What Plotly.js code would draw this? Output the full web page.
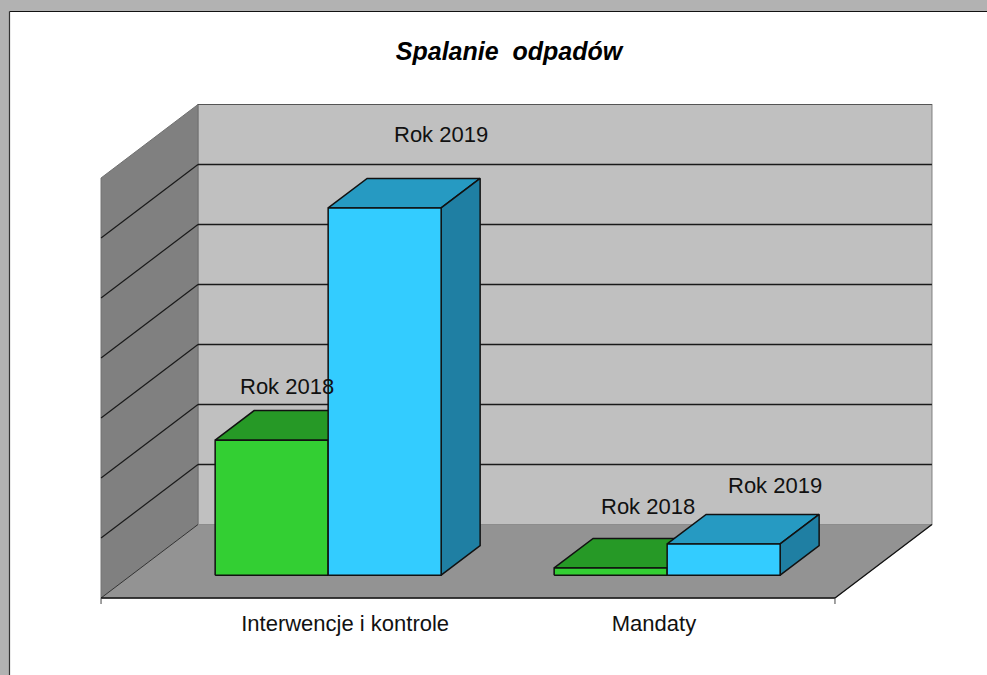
<!DOCTYPE html>
<html>
<head>
<meta charset="utf-8">
<script src="https://cdn.plot.ly/plotly-3.0.1.min.js"></script>
<style>html,body{margin:0;padding:0;background:#b2b2b2}#chart{width:987px;height:675px}</style>
</head>
<body>
<div id="chart"></div>
<script>
// ---- data (60 px of wall height = 10 units) ----
const categories = ["Interwencje i kontrole", "Mandaty"];
const seriesNames = ["Rok 2018", "Rok 2019"];
const rok2018 = [22.5, 1.2];
const rok2019 = [61.2, 5.2];
const gridValues = [10, 20, 30, 40, 50, 60, 70];
const titleText = "Spalanie\u00a0\u00a0odpadów";

// ---- colours ----
const greenFaces = {front: "#33cf33", top: "#269926", side: "#1f7f1f"};
const blueFaces = {front: "#33ccff", top: "#269ac2", side: "#1f7fa3"};
const wallColor = "#c0c0c0", leftWallColor = "#808080", floorColor = "#939393";

// ---- oblique projection, in axis units ----
const xMin = -0.581;
const floorWidth = 2.165;             // width of the floor's front edge
const depthX = 0.286, depthY = 12.25; // shift of the back wall against the front edge
const barFront = 0.311, barBack = 0.713, barWidth = 1 / 3;
const proj = (x, v, z) => [x + z * depthX, v + z * depthY];

function poly(points, fill, line, width) {
  const p = points.concat([points[0]]);
  return {
    type: "scatter", mode: "lines", x: p.map(q => q[0]), y: p.map(q => q[1]),
    fill: "toself", fillcolor: fill, hoverinfo: "skip",
    line: {color: line, width: width === undefined ? 1.5 : width}, showlegend: false
  };
}
function seg(a, b, color, width) {
  return {
    type: "scatter", mode: "lines", x: [a[0], b[0]], y: [a[1], b[1]],
    hoverinfo: "skip", line: {color: color, width: width}, showlegend: false
  };
}

const traces = [];
// walls and floor
traces.push(poly([proj(xMin, 0, 1), proj(floorWidth + xMin, 0, 1), proj(floorWidth + xMin, 70, 1), proj(xMin, 70, 1)], wallColor, "#8c8c8c", 1.2));
traces.push(poly([proj(xMin, 0, 0), proj(xMin, 0, 1), proj(xMin, 70, 1), proj(xMin, 70, 0)], leftWallColor, "#707070", 1));
traces.push(poly([proj(xMin, 0, 0), proj(xMin + floorWidth, 0, 0), proj(xMin + floorWidth, 0, 1), proj(xMin, 0, 1)], floorColor, "#8c8c8c", 1));
// grid lines
gridValues.forEach(v => {
  const c = v === 70 ? "#555555" : "#1a1a1a";
  if (v !== 70) traces.push(seg(proj(xMin, v, 0), proj(xMin, v, 1), c, 1.2));
  traces.push(seg(proj(xMin, v, 1), proj(xMin + floorWidth, v, 1), c, v === 70 ? 1.2 : 1.5));
});
// floor edges and axis ticks
traces.push(seg(proj(xMin, 0, 0), proj(xMin, 0, 1), "#333333", 1));
traces.push(seg(proj(xMin + floorWidth, 0, 0), proj(xMin + floorWidth, 0, 1), "#111111", 1.3));
traces.push(seg(proj(xMin, 0, 0), proj(xMin + floorWidth, 0, 0), "#111111", 1.6));
[xMin, xMin + floorWidth].forEach(x => traces.push(seg([x, 0], [x, -1], "#444444", 1)));

// bars
function addBars(values, offset, faces) {
  values.forEach((v, i) => {
    const a = i + offset, b = a + barWidth;
    traces.push(poly([proj(a, v, barFront), proj(a, v, barBack), proj(b, v, barBack), proj(b, v, barFront)], faces.top, "#111111"));
    traces.push(poly([proj(b, 0, barFront), proj(b, 0, barBack), proj(b, v, barBack), proj(b, v, barFront)], faces.side, "#111111"));
    traces.push(poly([proj(a, 0, barFront), proj(b, 0, barFront), proj(b, v, barFront), proj(a, v, barFront)], faces.front, "#111111"));
  });
}
addBars(rok2018, -barWidth, greenFaces);
addBars(rok2019, 0, blueFaces);

// ---- page and plot area; 339 px per category, 6 px per unit ----
const W = 987, H = 675, mL = 99, mR = 53, mT = 100, mB = 71;
const xRange = [(mL - 298) / 339, (W - mR - 298) / 339];
const yRange = [-1, (598 - mT) / 6];
const px = x => (x - mL) / (W - mL - mR);
const py = y => (H - mB - y) / (H - mT - mB);
const shapes = [
  {type: "rect", xref: "paper", yref: "paper", x0: px(9.5), x1: px(W), y0: py(H), y1: py(11.5), fillcolor: "#ffffff", line: {width: 0}, layer: "below"},
  {type: "line", xref: "paper", yref: "paper", x0: px(9.5), x1: px(W), y0: py(11.5), y1: py(11.5), line: {color: "#111111", width: 1.2}, layer: "below"},
  {type: "line", xref: "paper", yref: "paper", x0: px(9.5), x1: px(9.5), y0: py(H), y1: py(11.5), line: {color: "#333333", width: 1.2}, layer: "below"}
];

// ---- bar labels, placed by hand as in the reference ----
const labelFont = {family: "Liberation Sans, Arial, sans-serif", size: 22, color: "#111111"};
const labelSpots = [
  [seriesNames[0], 0, rok2018[0], -0.031, 12.67],
  [seriesNames[1], 0, rok2019[0], 0.423, 16.1],
  [seriesNames[0], 1, rok2018[1], 0.032, 13.97],
  [seriesNames[1], 1, rok2019[1], 0.407, 13.63]
];
const annotations = labelSpots.map(s => ({
  x: s[1] + s[3], y: s[2] + s[4], xref: "x", yref: "y", text: s[0], showarrow: false,
  xanchor: "center", yanchor: "middle", font: labelFont
}));

Plotly.newPlot("chart", traces, {
  width: W, height: H,
  margin: {l: mL, r: mR, t: mT, b: mB, pad: 0},
  paper_bgcolor: "#b2b2b2", plot_bgcolor: "rgba(0,0,0,0)",
  showlegend: false, hovermode: false,
  title: {text: "<b><i>" + titleText + "</i></b>", x: 509 / W, xanchor: "center", y: 1 - 51 / H, yanchor: "middle",
    font: {family: "Liberation Sans, Arial, sans-serif", size: 25, color: "#000000"}},
  xaxis: {range: xRange, showgrid: false, zeroline: false, showline: false, ticks: "",
    tickmode: "array", tickvals: [0.139, 1.05], ticktext: categories, ticklabelstandoff: 4,
    tickfont: labelFont, fixedrange: true},
  yaxis: {range: yRange, showgrid: false, zeroline: false, showline: false, ticks: "", showticklabels: false, fixedrange: true},
  shapes: shapes, annotations: annotations
}, {displayModeBar: false, staticPlot: true});
</script>
</body>
</html>
